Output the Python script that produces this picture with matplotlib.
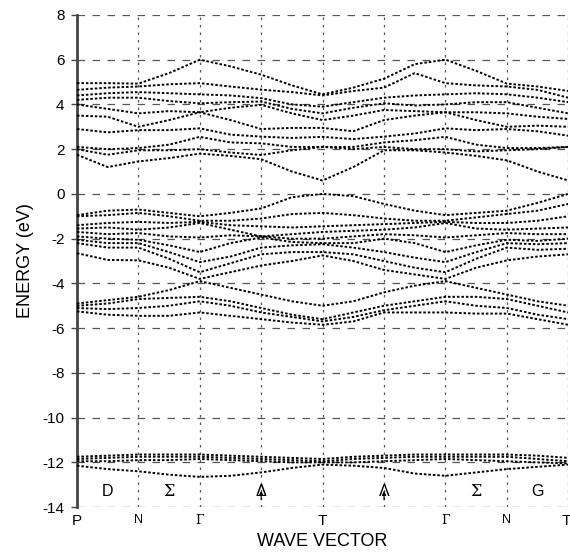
import matplotlib
matplotlib.use("Agg")
import matplotlib.pyplot as plt

plt.rcParams['font.family'] = ['Liberation Sans', 'DejaVu Sans']

# k-path positions (0..8) sampled every 0.5
kpts = [0, 0.5, 1, 1.5, 2, 2.5, 3, 3.5, 4, 4.5, 5, 5.5, 6, 6.5, 7, 7.5, 8]

# conduction bands (eV)
c10 = [4.95, 4.95, 4.93, 5.4, 6.0, 5.7, 5.33, 4.85, 4.45, 4.75, 5.15, 5.8, 6.0, 5.5, 4.93, 4.8, 4.6]
c9 = [4.65, 4.75, 4.8, 4.9, 4.95, 4.8, 4.66, 4.55, 4.4, 4.6, 4.75, 5.4, 4.95, 4.85, 4.8, 4.65, 4.3]
c8 = [4.4, 4.5, 4.55, 4.5, 4.45, 4.4, 4.28, 4.0, 3.9, 4.1, 4.3, 4.4, 4.45, 4.5, 4.45, 4.3, 4.1]
c7 = [4.2, 4.3, 4.3, 4.15, 4.05, 4.1, 4.13, 3.8, 3.6, 3.85, 4.05, 3.95, 4.0, 4.1, 4.1, 3.85, 3.6]
c6 = [4.0, 3.8, 3.6, 3.7, 3.65, 3.85, 3.98, 3.6, 3.3, 3.5, 3.75, 3.7, 3.65, 3.65, 3.6, 3.45, 3.35]
c5 = [3.5, 3.45, 3.0, 3.3, 3.65, 3.3, 2.9, 2.95, 2.95, 2.8, 3.3, 3.5, 3.65, 3.3, 3.0, 3.05, 3.0]
c4 = [2.9, 2.75, 2.85, 2.85, 2.93, 2.65, 2.56, 2.5, 2.55, 2.45, 2.56, 2.7, 2.93, 2.85, 2.9, 2.8, 2.6]
c3 = [2.1, 2.0, 2.05, 2.2, 2.55, 2.3, 2.26, 2.1, 2.1, 2.1, 2.3, 2.4, 2.55, 2.2, 2.05, 2.05, 2.1]
c2 = [2.0, 1.75, 1.95, 1.95, 2.0, 1.85, 1.74, 1.95, 2.1, 2.0, 2.1, 2.0, 2.0, 1.9, 1.95, 2.0, 2.1]
c1 = [1.75, 1.2, 1.45, 1.6, 1.8, 1.7, 1.55, 1.0, 0.6, 1.2, 1.95, 1.95, 1.85, 1.7, 1.5, 1.0, 0.6]

# valence bands (eV)
v1 = [-0.95, -0.75, -0.7, -0.85, -1.0, -0.85, -0.65, -0.15, 0.0, -0.1, -0.45, -0.75, -0.95, -0.85, -0.75, -0.4, 0.0]
v2 = [-1.0, -0.95, -0.85, -1.0, -1.2, -1.2, -1.1, -0.9, -0.85, -0.95, -1.1, -1.2, -1.2, -1.05, -0.9, -0.75, -0.45]
v3 = [-1.4, -1.3, -1.25, -1.3, -1.25, -1.4, -1.45, -1.5, -1.45, -1.4, -1.35, -1.3, -1.25, -1.3, -1.3, -1.2, -1.0]
v4 = [-1.55, -1.5, -1.6, -1.5, -1.3, -1.6, -1.9, -1.8, -1.7, -1.65, -1.6, -1.5, -1.3, -1.55, -1.6, -1.55, -1.5]
v5 = [-1.7, -1.8, -1.75, -1.9, -1.95, -1.85, -1.9, -2.0, -2.0, -1.9, -1.8, -1.85, -1.95, -1.85, -1.75, -1.8, -1.8]
v6 = [-1.9, -2.0, -2.05, -2.3, -2.6, -2.2, -1.95, -2.15, -2.2, -2.2, -2.0, -2.2, -2.6, -2.3, -2.05, -2.1, -2.0]
v7 = [-2.05, -2.2, -2.2, -2.6, -3.05, -2.8, -2.4, -2.3, -2.25, -2.4, -2.6, -2.85, -3.05, -2.6, -2.2, -2.25, -2.2]
v8 = [-2.2, -2.4, -2.4, -2.9, -3.5, -3.1, -2.7, -2.6, -2.6, -2.7, -3.0, -3.3, -3.5, -2.9, -2.4, -2.5, -2.45]
v9 = [-2.65, -2.95, -2.97, -3.3, -3.8, -3.5, -3.2, -3.0, -2.75, -3.0, -3.4, -3.6, -3.8, -3.3, -2.97, -2.8, -2.7]
v10 = [-4.9, -4.75, -4.6, -4.3, -3.9, -4.2, -4.5, -4.8, -5.0, -4.8, -4.4, -4.1, -3.9, -4.2, -4.5, -4.8, -5.0]
v11 = [-5.0, -4.9, -4.7, -4.65, -4.6, -4.8, -5.1, -5.4, -5.6, -5.3, -5.0, -4.8, -4.6, -4.6, -4.7, -5.0, -5.3]
v12 = [-5.1, -5.15, -5.1, -5.0, -4.8, -5.0, -5.3, -5.5, -5.7, -5.5, -5.2, -5.0, -4.8, -5.0, -5.1, -5.4, -5.6]
v13 = [-5.25, -5.4, -5.45, -5.45, -5.3, -5.45, -5.6, -5.75, -5.85, -5.7, -5.3, -5.3, -5.3, -5.35, -5.35, -5.6, -5.85]

# low-lying bands near -12 eV
l1 = [-11.75, -11.7, -11.65, -11.65, -11.65, -11.7, -11.75, -11.8, -11.85, -11.75, -11.7, -11.65, -11.65, -11.65, -11.65, -11.7, -11.8]
l2 = [-11.85, -11.8, -11.75, -11.75, -11.75, -11.8, -11.85, -11.9, -11.95, -11.85, -11.8, -11.75, -11.75, -11.75, -11.75, -11.85, -11.95]
l3 = [-11.95, -11.95, -11.9, -11.9, -11.85, -11.9, -11.95, -12.0, -12.0, -12.0, -11.95, -11.9, -11.85, -11.9, -11.95, -12.0, -12.05]
l4 = [-12.15, -12.3, -12.4, -12.55, -12.65, -12.6, -12.45, -12.25, -12.1, -12.15, -12.25, -12.5, -12.6, -12.45, -12.3, -12.2, -12.1]

bands = [c10, c9, c8, c7, c6, c5, c4, c3, c2, c1,
         v1, v2, v3, v4, v5, v6, v7, v8, v9, v10, v11, v12, v13,
         l1, l2, l3, l4]

# labels
point_labels = ["P", "N", "Γ", "T", "Γ", "N", "T"]
point_pos = [0, 1, 2, 4, 6, 7, 7.97]
segment_labels = ["D", "Σ", "Δ", "Λ", "Σ", "G"]
segment_pos = [0.5, 1.5, 3, 5, 6.5, 7.5]
yticks = [8, 6, 4, 2, 0, -2, -4, -6, -8, -10, -12, -14]

fig = plt.figure(figsize=(5.70, 5.53), dpi=100)
ax = fig.add_axes([0.135, 0.083, 0.862, 0.890])

for b in bands:
    ax.plot(kpts, b, color='black', lw=1.4, linestyle=(0, (1.3, 1.0)),
            solid_capstyle='butt', dash_capstyle='butt', zorder=3)

ax.set_xlim(0, 8)
ax.set_ylim(-14, 8)

# grid lines
for y in yticks:
    ax.axhline(y, color='#555555', lw=0.9, linestyle=(0, (6, 6)), zorder=1)
for x in range(1, 9):
    ax.axvline(x, color='#555555', lw=0.9, linestyle=(0, (2, 4)), zorder=1)

for s in ['top', 'right', 'bottom']:
    ax.spines[s].set_visible(False)
ax.spines['left'].set_color('#444444')
ax.spines['left'].set_linewidth(2.0)

ax.set_yticks(yticks)
ax.set_yticklabels([str(t) for t in yticks], fontsize=11)
ax.tick_params(axis='y', length=4, width=1, color='#444444', pad=5)
ax.set_xticks([])

for lab, p in zip(point_labels, point_pos):
    fs = 11 if lab in ("P", "T") else 9
    fam = ['DejaVu Serif'] if lab == "Γ" else ['Liberation Sans', 'DejaVu Sans']
    ax.text(p, -14.3, lab, ha='center', va='top', fontsize=fs, family=fam)

for lab, p in zip(segment_labels, segment_pos):
    fam = ['DejaVu Serif'] if lab in ("Σ",) else ['Liberation Sans', 'DejaVu Sans']
    ax.text(p, -13.3, lab, ha='center', va='center', fontsize=11.5, family=fam)
    if lab in ("Δ", "Λ"):
        ax.annotate('', xy=(p, -13.15), xytext=(p, -13.8),
                    arrowprops=dict(arrowstyle='-|>', lw=0.8, color='black',
                                    mutation_scale=6))

ax.set_ylabel("ENERGY (eV)", fontsize=13, labelpad=6)
fig.text(0.565, 0.006, "WAVE VECTOR", ha='center', va='bottom', fontsize=13)

fig.savefig("out.png", dpi=100)
